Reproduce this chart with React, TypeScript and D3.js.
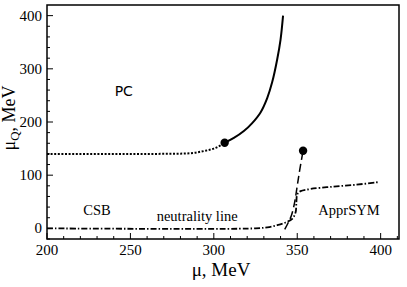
import React from 'react';
import * as d3 from 'd3';

// chart values (mu, muQ in MeV)
const pcDotted: [number, number][] = [
  [200, 140], [260, 140], [280, 140.5], [288, 142], [295, 146], [300, 150], [304, 156], [306.5, 161],
];
const pcSolid: [number, number][] = [
  [306.5, 161], [312, 170], [318, 183], [323, 198], [328, 218], [332, 245], [335, 275], [338, 318], [340, 355], [341.5, 400],
];
const neutrality: [number, number][] = [
  [200, 0], [325, 0], [332, 2], [338, 6], [343, 11], [347, 18], [349, 30], [349.5, 50], [350, 64], [352, 70],
  [358, 74], [370, 78], [385, 82], [399, 87],
];
const dashedLine: [number, number][] = [
  [342.5, -2], [344.5, 10], [346.5, 24], [348.5, 50], [350, 80], [351.5, 110], [353.5, 146],
];
const endPoints: [number, number][] = [[306.5, 161], [353.5, 146]];
const xTicks = [200, 250, 300, 350, 400];
const yTicks = [0, 100, 200, 300, 400];
const SERIF = 'Liberation Serif';
const SANS = 'DejaVu Sans';
const regionLabels = [
  { text: 'PC', mu: 246, q: 248, font: SANS, size: 14 },
  { text: 'CSB', mu: 230, q: 26, font: SERIF, size: 14.5 },
  { text: 'neutrality line', mu: 290, q: 13, font: SERIF, size: 14.5 },
  { text: 'ApprSYM', mu: 381, q: 26, font: SERIF, size: 14.5 },
];

const W = 407;
const H = 287;
const margin = { top: 5, right: 8, bottom: 48, left: 47 };
const iw = W - margin.left - margin.right;
const ih = H - margin.top - margin.bottom;

export default function App() {
  const x = d3.scaleLinear().domain([200, 411]).range([0, iw]);
  const y = d3.scaleLinear().domain([-20, 420]).range([ih, 0]);
  const mono = d3.line<[number, number]>().x(d => x(d[0])).y(d => y(d[1])).curve(d3.curveMonotoneX);
  const cr = d3.line<[number, number]>().x(d => x(d[0])).y(d => y(d[1])).curve(d3.curveCatmullRom);

  return (
    <svg width={W} height={H} style={{ position: 'absolute', left: 0, top: 0, background: '#fff' }}>
      <g transform={`translate(${margin.left},${margin.top})`}>
        {/* ticks inside the frame */}
        {d3.range(200, 411, 10).map(v => (
          <line key={'xm' + v} x1={x(v)} x2={x(v)} y1={ih} y2={ih - (v % 50 === 0 ? 6 : 3)} stroke="#000" strokeWidth={1} />
        ))}
        {d3.range(-20, 420, 20).map(v => (
          <line key={'ym' + v} x1={0} x2={v % 100 === 0 ? 6 : 3} y1={y(v)} y2={y(v)} stroke="#000" strokeWidth={1} />
        ))}
        {xTicks.map(d => (
          <text key={'xt' + d} x={x(d)} y={ih + 16} textAnchor="middle" fontFamily={SERIF} fontSize={15}>{d}</text>
        ))}
        {yTicks.map(d => (
          <text key={'yt' + d} x={-5} y={y(d) + 5} textAnchor="end" fontFamily={SERIF} fontSize={15}>{d}</text>
        ))}

        <path d={mono(pcDotted) || ''} fill="none" stroke="#000" strokeWidth={2} strokeDasharray="2,1.6" />
        <path d={cr(pcSolid) || ''} fill="none" stroke="#000" strokeWidth={2} />
        <path d={cr(neutrality) || ''} fill="none" stroke="#000" strokeWidth={1.8} strokeDasharray="6,2,1.5,2" />
        <path d={cr(dashedLine) || ''} fill="none" stroke="#000" strokeWidth={1.5} strokeDasharray="8,4" />
        {endPoints.map((d, i) => (
          <circle key={'p' + i} cx={x(d[0])} cy={y(d[1])} r={4.2} fill="#000" />
        ))}

        {regionLabels.map(l => (
          <text key={l.text} x={x(l.mu)} y={y(l.q)} textAnchor="middle" fontFamily={l.font} fontSize={l.size}>{l.text}</text>
        ))}

        <rect x={0} y={0} width={iw} height={ih} fill="none" stroke="#000" strokeWidth={1.5} />

        <text x={iw / 2 - 2} y={ih + 37} textAnchor="middle" fontFamily={SERIF} fontSize={19}>μ, MeV</text>
        <text transform={`translate(-32,${ih / 2 - 4}) rotate(-90)`} textAnchor="middle" fontFamily={SERIF} fontSize={18}>
          <tspan>μ</tspan>
          <tspan dy={4} fontSize={13}>Q</tspan>
          <tspan dy={-4}>, MeV</tspan>
        </text>
      </g>
    </svg>
  );
}
